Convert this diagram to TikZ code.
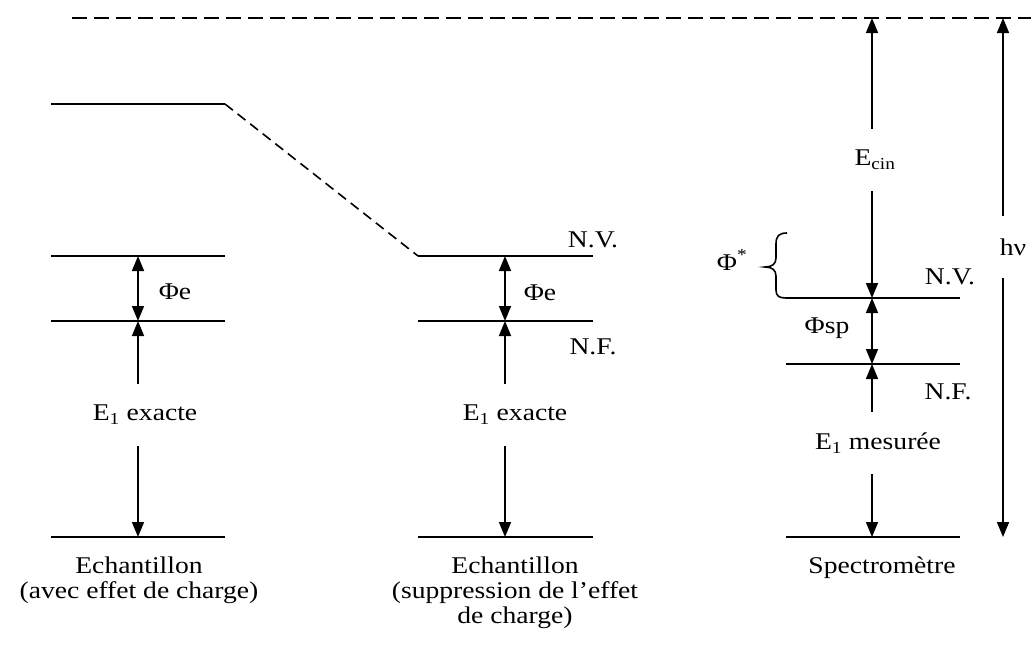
\documentclass[tikz,border=0pt]{standalone}
\usepackage{fontspec}
\setmainfont{Liberation Serif}[FakeStretch=1.15]
\usepackage{tikz}
\usetikzlibrary{arrows.meta, positioning}

\tikzset{
  niveau/.style={line width=1.6pt},
  vide/.style={line width=1.6pt, dash pattern=on 15pt off 7pt},
  tiret/.style={line width=1.6pt, dash pattern=on 10pt off 6pt},
  fleche/.style={line width=1.6pt, -{Triangle[length=15pt,width=12pt]}},
  dfleche/.style={line width=1.6pt, {Triangle[length=15pt,width=12pt]}-{Triangle[length=15pt,width=12pt]}},
  txt/.style={inner sep=0pt, font=\fontsize{24}{25}\selectfont},
  ecart/.style={txt, minimum height=62pt},
  titre/.style={txt, align=center, anchor=north},
}

\begin{document}
\begin{tikzpicture}[x=1pt,y=-1pt]
  \useasboundingbox (0,0) rectangle (1031,646);

  % niveau du vide
  \coordinate (Vide1) at (72,18);
  \coordinate (Vide2) at (1031,18);
  \draw[vide] (Vide1) -- (Vide2);

  % echantillon avec effet de charge
  \coordinate (GH1) at (51,104);  \coordinate (GH2) at (225,104);
  \coordinate (GV1) at (51,256);  \coordinate (GV2) at (225,256);
  \coordinate (GF1) at (51,321);  \coordinate (GF2) at (225,321);
  \coordinate (GB1) at (51,537);  \coordinate (GB2) at (225,537);
  \draw[niveau] (GH1) -- (GH2);
  \draw[niveau] (GV1) -- (GV2);
  \draw[niveau] (GF1) -- (GF2);
  \draw[niveau] (GB1) -- (GB2);
  \coordinate (GVa) at (138,256);
  \coordinate (GFa) at (138,321);
  \coordinate (GBa) at (138,537);
  \draw[dfleche] (GVa) -- (GFa);
  \node[txt] (PhiG) at (175,292) {Φe};
  \node[ecart] (EG) at (145,415) {E\textsubscript{1} exacte};
  \draw[fleche] (EG.north -| GFa) -- (GFa);
  \draw[fleche] (EG.south -| GBa) -- (GBa);
  \node[titre] (TG) at (139,557) {Echantillon\\(avec effet de charge)};

  % echantillon sans effet de charge
  \coordinate (MV1) at (418,256);  \coordinate (MV2) at (593,256);
  \coordinate (MF1) at (418,321);  \coordinate (MF2) at (593,321);
  \coordinate (MB1) at (418,537);  \coordinate (MB2) at (593,537);
  \draw[tiret] (GH2) -- (MV1);
  \draw[niveau] (MV1) -- (MV2);
  \draw[niveau] (MF1) -- (MF2);
  \draw[niveau] (MB1) -- (MB2);
  \coordinate (MVa) at (505,256);
  \coordinate (MFa) at (505,321);
  \coordinate (MBa) at (505,537);
  \draw[dfleche] (MVa) -- (MFa);
  \node[txt] (PhiM) at (540,293) {Φe};
  \node[txt] (NVM) at (593,240) {N.V.};
  \node[txt] (NFM) at (593,347) {N.F.};
  \node[ecart] (EM) at (515,415) {E\textsubscript{1} exacte};
  \draw[fleche] (EM.north -| MFa) -- (MFa);
  \draw[fleche] (EM.south -| MBa) -- (MBa);
  \node[titre] (TM) at (515,557) {Echantillon\\(suppression de l’effet\\de charge)};

  % spectrometre
  \coordinate (DV1) at (786,298);  \coordinate (DV2) at (960,298);
  \coordinate (DF1) at (786,364);  \coordinate (DF2) at (960,364);
  \coordinate (DB1) at (786,537);  \coordinate (DB2) at (960,537);
  \draw[niveau] (DV1) -- (DV2);
  \draw[niveau] (DF1) -- (DF2);
  \draw[niveau] (DB1) -- (DB2);
  \coordinate (DHa) at (872,18);
  \coordinate (DVa) at (872,298);
  \coordinate (DFa) at (872,364);
  \coordinate (DBa) at (872,537);
  \node[ecart] (EC) at (875,160) {E\textsubscript{cin}};
  \draw[fleche] (EC.north -| DHa) -- (DHa);
  \draw[fleche] (EC.south -| DVa) -- (DVa);
  \draw[dfleche] (DVa) -- (DFa);
  \node[txt] (PhiS) at (827,328) {Φsp};
  \node[txt] (NVD) at (950,277) {N.V.};
  \node[txt] (NFD) at (948,392) {N.F.};
  \node[ecart] (ED) at (878,443) {E\textsubscript{1} mesurée};
  \draw[fleche] (ED.north -| DFa) -- (DFa);
  \draw[fleche] (ED.south -| DBa) -- (DBa);
  \node[titre] (TD) at (882,557) {Spectromètre};

  % travail de sortie
  \coordinate (AcH) at (787,233);
  \draw[niveau] (AcH) .. controls (779,233) and (776,236) .. (776,244)
    -- (776,258) .. controls (776,264) and (772,267) .. (765,267)
    .. controls (772,267) and (776,270) .. (776,276)
    -- (776,290) .. controls (776,296) and (779,298) .. (DV1);
  \node[txt] (PhiE) at (732,260) {Φ\textsuperscript{*}};

  % energie du photon
  \coordinate (HH) at (1003,18);
  \coordinate (HB) at (1003,537);
  \node[ecart] (Hnu) at (1013,247) {hν};
  \draw[fleche] (Hnu.north -| HH) -- (HH);
  \draw[fleche] (Hnu.south -| HB) -- (HB);
\end{tikzpicture}
\end{document}
